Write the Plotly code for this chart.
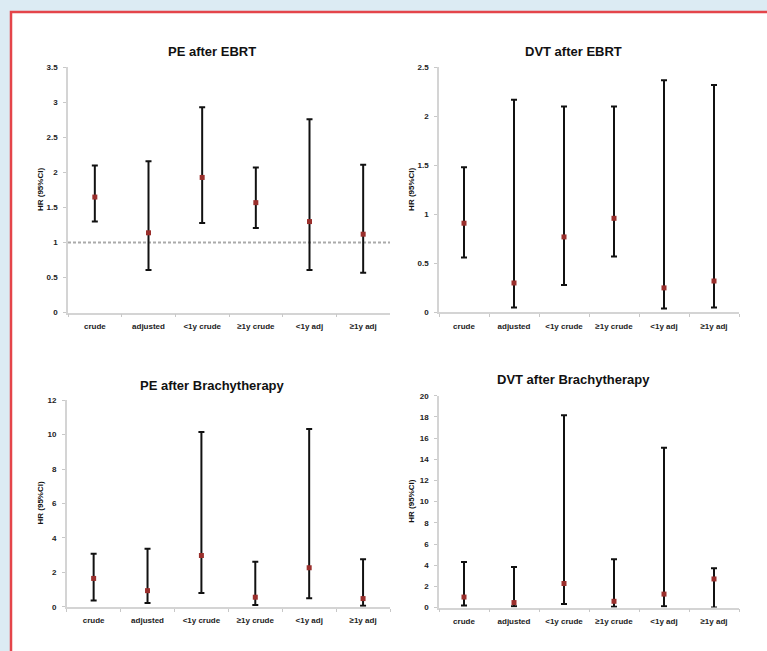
import plotly.graph_objects as go

W, H = 767, 651

categories = ["crude", "adjusted", "<1y crude", "≥1y crude", "<1y adj", "≥1y adj"]

titles = ["PE after EBRT", "DVT after EBRT", "PE after Brachytherapy", "DVT after Brachytherapy"]

pe_ebrt_hr = [1.65, 1.14, 1.93, 1.57, 1.30, 1.12]
pe_ebrt_lo = [1.30, 0.61, 1.28, 1.21, 0.61, 0.57]
pe_ebrt_hi = [2.10, 2.16, 2.93, 2.07, 2.76, 2.11]

dvt_ebrt_hr = [0.91, 0.30, 0.77, 0.96, 0.25, 0.32]
dvt_ebrt_lo = [0.56, 0.05, 0.28, 0.57, 0.04, 0.05]
dvt_ebrt_hi = [1.48, 2.17, 2.10, 2.10, 2.37, 2.32]

pe_brachy_hr = [1.65, 0.94, 2.98, 0.56, 2.27, 0.48]
pe_brachy_lo = [0.37, 0.23, 0.80, 0.11, 0.50, 0.07]
pe_brachy_hi = [3.08, 3.38, 10.15, 2.62, 10.32, 2.77]

dvt_brachy_hr = [0.99, 0.47, 2.27, 0.59, 1.27, 2.70]
dvt_brachy_lo = [0.19, 0.12, 0.34, 0.08, 0.12, 0.01]
dvt_brachy_hi = [4.30, 3.82, 18.17, 4.56, 15.09, 3.70]

y_ranges = [3.5, 2.5, 12, 20]
y_dticks = [0.5, 0.5, 2, 2]
ref_line = 1.0

series = [
    (pe_ebrt_hr, pe_ebrt_lo, pe_ebrt_hi),
    (dvt_ebrt_hr, dvt_ebrt_lo, dvt_ebrt_hi),
    (pe_brachy_hr, pe_brachy_lo, pe_brachy_hi),
    (dvt_brachy_hr, dvt_brachy_lo, dvt_brachy_hi),
]

# pixel boxes: (left, right, top, bottom)
boxes = [
    (68, 390, 64.3, 313),
    (439, 739, 64.3, 312.7),
    (66.7, 390, 401.7, 611.3),
    (439, 739, 397.3, 612),
]
title_pos = [(212, 48), (573, 48), (212, 387), (573, 381)]
ytitle_x = [40, 412, 40, 412]

fig = go.Figure()
tick_font = dict(family="Liberation Sans", size=8, color="#222222", weight="bold")

layout_axes = {}
annotations = []
for i, ((hr, lo, hi), (l, r, t, b)) in enumerate(zip(series, boxes)):
    n = i + 1
    xa = "x" if n == 1 else f"x{n}"
    ya = "y" if n == 1 else f"y{n}"
    fig.add_trace(go.Scatter(
        x=categories, y=hr, xaxis=xa, yaxis=ya, mode="markers",
        marker=dict(symbol="square", size=5, color="#9a2f2c"),
        error_y=dict(type="data", symmetric=False,
                     array=[h - v for h, v in zip(hi, hr)],
                     arrayminus=[v - lw for v, lw in zip(hr, lo)],
                     color="#111111", thickness=2, width=3),
        showlegend=False, cliponaxis=False,
    ))
    xkey = "xaxis" if n == 1 else f"xaxis{n}"
    ykey = "yaxis" if n == 1 else f"yaxis{n}"
    layout_axes[xkey] = dict(
        domain=[l / W, r / W], anchor=ya, type="category",
        range=[-0.5, 5.5], tickson="boundaries", ticks="outside", ticklen=3,
        tickcolor="#c8c8c8", showline=True, linecolor="#d4d4d4", linewidth=1.5,
        showgrid=False, zeroline=False, tickfont=tick_font, fixedrange=True,
        ticklabelstandoff=5,
    )
    layout_axes[ykey] = dict(
        domain=[1 - b / H, 1 - t / H], anchor=xa, range=[0, y_ranges[i]],
        dtick=y_dticks[i], tick0=0, ticks="outside", ticklen=3,
        tickcolor="#c8c8c8", showline=True, linecolor="#d4d4d4", linewidth=1.5,
        showgrid=False, zeroline=False, tickfont=tick_font, fixedrange=True,
        ticklabelstandoff=4,
    )
    tx, ty = title_pos[i]
    annotations.append(dict(
        text=f"<b>{titles[i]}</b>", x=tx / W, y=1 - ty / H, xref="paper", yref="paper",
        showarrow=False, xanchor="center", yanchor="middle",
        font=dict(family="Liberation Sans", size=13, color="#111111"),
    ))
    annotations.append(dict(
        text="<b>HR (95%CI)</b>", x=ytitle_x[i] / W, y=1 - (t + b) / 2 / H,
        xref="paper", yref="paper", showarrow=False, textangle=-90,
        xanchor="center", yanchor="middle",
        font=dict(family="Liberation Sans", size=8, color="#111111"),
    ))

shapes = [
    dict(type="rect", xref="paper", yref="paper", x0=11 / W, x1=1.05, y0=-0.05, y1=1 - 8 / H,
         fillcolor="white", line=dict(color="#e4454a", width=2.5), layer="below"),
    dict(type="line", xref="x domain", yref="y", x0=0, x1=1, y0=ref_line, y1=ref_line,
         line=dict(color="#aaaaaa", width=2, dash="3px,2px"), layer="below"),
]

fig.update_layout(
    width=W, height=H, margin=dict(l=0, r=0, t=0, b=0),
    paper_bgcolor="#dcebf3", plot_bgcolor="rgba(0,0,0,0)",
    annotations=annotations, shapes=shapes, **layout_axes,
)

fig.write_html(
    "out.html",
    config={"displayModeBar": False},
    post_script="document.body.style.margin='0';document.body.style.overflow='hidden';",
)
